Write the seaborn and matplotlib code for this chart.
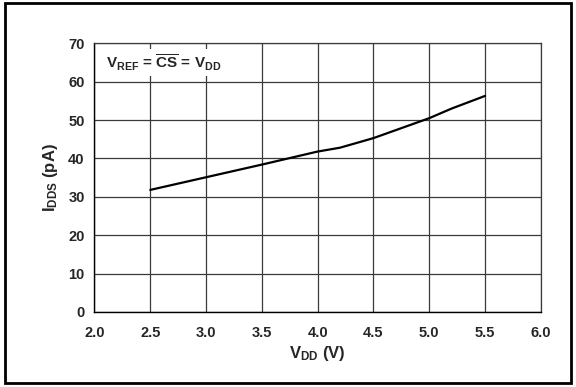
import matplotlib
matplotlib.use('Agg')
import matplotlib.pyplot as plt
import seaborn as sns
import pandas as pd
from matplotlib.patches import Rectangle

#%% Dados
vdd = [2.5, 3.0, 3.5, 4.0, 4.2, 4.5, 5.0, 5.2, 5.5]
idds = [31.8, 35.1, 38.4, 41.8, 42.8, 45.3, 50.5, 53.0, 56.3]
x_ticks = [2.0, 2.5, 3.0, 3.5, 4.0, 4.5, 5.0, 5.5, 6.0]
y_ticks = [0, 10, 20, 30, 40, 50, 60, 70]

df = pd.DataFrame({'VDD': vdd, 'IDDS': idds})

#%% Estilo
sns.set_style('white')
plt.rcParams['font.family'] = ['Liberation Sans', 'DejaVu Sans']
plt.rcParams['font.weight'] = 'bold'
plt.rcParams['mathtext.fontset'] = 'custom'
plt.rcParams['mathtext.rm'] = 'Liberation Sans:bold'
plt.rcParams['mathtext.it'] = 'Liberation Sans:bold'
plt.rcParams['mathtext.bf'] = 'Liberation Sans:bold'
plt.rcParams['mathtext.default'] = 'bf'

fig = plt.figure(figsize=(5.76, 3.87), dpi=100)
ax = fig.add_axes([0.164, 0.194, 0.775, 0.694])

sns.lineplot(data=df, x='VDD', y='IDDS', color='black', linewidth=1.6, ax=ax)

ax.set_xlim(2.0, 6.0)
ax.set_ylim(0, 70)
ax.set_xticks(x_ticks)
ax.set_yticks(y_ticks)
ax.set_xticklabels([f'{v:.1f}' for v in x_ticks], fontsize=10.5, fontweight='bold')
ax.set_yticklabels([str(v) for v in y_ticks], fontsize=10.5, fontweight='bold')
ax.grid(True, color='#3a3a3a', linewidth=0.9)
ax.tick_params(axis='both', direction='out', length=3, width=0.9, color='black')
ax.tick_params(axis='x', pad=7)
ax.tick_params(axis='y', pad=4)

for s in ['top', 'right']:
    ax.spines[s].set_color('#3a3a3a')
    ax.spines[s].set_linewidth(0.9)
for s in ['left', 'bottom']:
    ax.spines[s].set_color('black')
    ax.spines[s].set_linewidth(1.0)

ax.set_xlabel(r'$\mathbf{V_{DD}}$ (V)', fontsize=12, fontweight='bold', labelpad=3)
ax.set_ylabel(r'$\mathbf{I_{DDS}}$ (pA)', fontsize=12, fontweight='bold', labelpad=6)

# caixa branca atras do texto (corta as linhas de grade)
ax.text(2.10, 65.0, r'$\mathbf{V_{REF}}$ = $\mathbf{\overline{CS}}$ = $\mathbf{V_{DD}}$',
        fontsize=11, fontweight='bold', va='center', ha='left', zorder=5,
        bbox=dict(facecolor='white', edgecolor='none', pad=2.5))

# moldura externa
fig.patches.append(Rectangle((0.009, 0.01), 0.982, 0.982, transform=fig.transFigure,
                             fill=False, edgecolor='black', linewidth=2))

fig.savefig('out.png', dpi=100)
